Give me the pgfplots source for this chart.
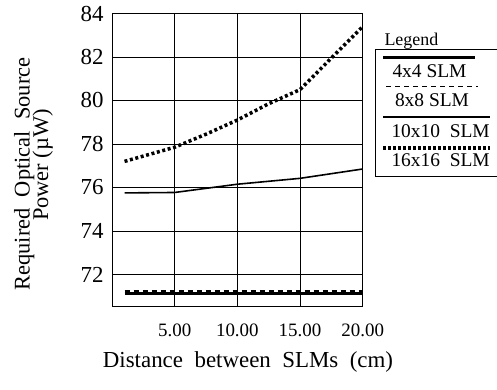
\documentclass[border=0pt]{standalone}
\usepackage{pgfplots}
\pgfplotsset{compat=1.18}
\usepackage{fontspec}
\setmainfont{Liberation Serif}
\begin{document}
\begin{tikzpicture}[x=1bp,y=1bp]
\begin{axis}[
  at={(112bp,83bp)}, anchor=south west,
  scale only axis, width=250.7bp, height=292.5bp,
  xmin=0, xmax=20, ymin=70.55, ymax=84,
  xtick={5,10,15,20}, xticklabels={5.00,10.00,15.00,20.00},
  ytick={72,74,76,78,80,82,84},
  major tick length=0pt,
  grid=major, major grid style={black, line width=0.9pt},
  axis line style={black, line width=0.9pt},
  /pgf/number format/assume math mode=true,
  xticklabel style={font=\fontsize{19}{21}\selectfont, yshift=-14bp},
  yticklabel style={font=\fontsize{23}{25}\selectfont, xshift=-5bp},
  clip=false,
]
\addplot[black, line width=1.2pt, dash pattern=on 5bp off 4bp] coordinates {(1,71.24) (20,71.24)};
\addplot[black, line width=3.5bp] coordinates {(1,71.12) (20,71.12)};
\addplot[black, line width=1.6pt] coordinates {(1,75.75) (5,75.77) (10,76.15) (15,76.42) (20,76.85)};
\addplot[black, line width=3.5bp, dash pattern=on 3bp off 2.6bp] coordinates {(1,77.2) (5,77.85) (7.5,78.45) (10,79.1) (12.5,79.85) (15,80.5) (17.5,81.95) (20,83.4)};
\end{axis}
% axis labels
\node[anchor=base, font=\fontsize{23}{25}\selectfont] at (248,22) {Distance\ \ between\ \ SLMs\ \ (cm)};
\node[anchor=base, rotate=90, font=\fontsize{22.5}{24}\selectfont] at (29.5,215) {Required\ \ Optical\ \ Source};
\node[anchor=base, rotate=90, font=\fontsize{22.5}{24}\selectfont] at (48,224) {Power (µW)};
% legend
\node[anchor=base west, font=\fontsize{18}{20}\selectfont] at (381,344) {Legend};
\draw[line width=0.9pt] (497,339.7) -- (375,339.7) -- (375,213) -- (497,213);
\draw[line width=3.5bp] (383,331.3) -- (475,331.3);
\node[anchor=base west, font=\fontsize{19.5}{21}\selectfont] at (389,311.7) {4x4 SLM};
\draw[line width=1pt, dash pattern=on 5bp off 4bp] (386,303) -- (478,303);
\node[anchor=base west, font=\fontsize{19.5}{21}\selectfont] at (391.5,283) {8x8 SLM};
\draw[line width=1.2pt] (383,272) -- (490,272);
\node[anchor=base west, font=\fontsize{19.5}{21}\selectfont] at (388,251.7) {10x10\ \ SLM};
\draw[line width=3.2bp, dash pattern=on 2.8bp off 2.2bp] (383,241) -- (490,241);
\node[anchor=base west, font=\fontsize{19.5}{21}\selectfont] at (388,222.3) {16x16\ \ SLM};
\pgfresetboundingbox
\path[use as bounding box] (0,0) rectangle (497,389);
\end{tikzpicture}
\end{document}
